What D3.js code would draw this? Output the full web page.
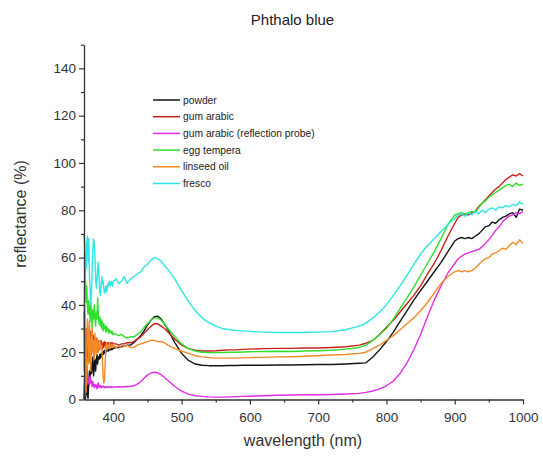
<!DOCTYPE html>
<html>
<head>
<meta charset="utf-8">
<script src="https://cdn.jsdelivr.net/npm/d3@7"></script>
<style>
  html, body { margin: 0; padding: 0; background: #fff; }
  svg { display: block; font-family: Arial, "Liberation Sans", sans-serif; }
</style>
</head>
<body>
<svg id="chart" width="543" height="457"></svg>
<script>
// Wavelength grid (nm) shared by all spectra: 1 nm steps at the noisy blue end
const wavelengths = [
  357,358,359,360,361,362,363,364,365,366,367,368,369,370,371,372,373,374,375,376,377,378,
  379,380,381,382,383,384,385,386,387,388,389,390,391,392,393,394,395,396,397,398,399,400,
  404,408,412,416,420,425,430,
  435,440,445,450,455,460,465,470,475,480,
  490,500,510,520,530,540,550,560,570,580,590,600,
  620,640,660,680,700,720,740,760,
  770,780,790,800,810,820,830,840,850,860,870,880,890,900,
  905,910,915,920,925,930,935,940,945,950,955,960,965,970,975,980,985,990,995,1000
];

// Reflectance (%) per sample
const powder = [
  0,10,0,3,14,2,0.5,8,12,9,16,11,13,18,10,14,17,12,16,19,15,18,
  17,19,17.5,19.5,18,20,19,20.5,19.5,21,20,21,20.5,21.5,20.5,21,21.5,21,21.5,21,22,21.5,
  22,22,22.5,22.5,23,23,24,
  25.5,27,29,31.5,33.5,35,35.2,34,32,29.5,
  24,19.5,16.5,15,14.5,14.3,14.3,14.3,14.4,14.4,14.5,14.5,
  14.5,14.6,14.6,14.7,14.8,14.8,15,15.3,
  15.5,18,21,24.5,28.5,33,37.5,42,46,50,54,58,62.5,67,
  68,68.5,68,68.5,68,69,70,71.5,73,73.5,75,74.5,76,77,77.5,78.5,79,77,80.5,80
];
const gumArabic = [
  37,20,8,30,14,26,18,28,16,24,29,19,25,21,27,18,24,22,26,20,23,25,
  21,24,22,25,23,21.5,24,22,24.5,23,24,22.5,24,23,24,23.5,24,23,24,23.5,24,23.5,
  23.5,23,23.5,23.5,24,24,24.5,
  25.5,26.5,28,29.5,31,32,32,31,30,28.5,
  25.5,23,21.5,20.8,20.5,20.5,20.6,20.8,21,21,21.2,21.3,
  21.5,21.6,21.6,21.8,21.8,22,22.3,23,
  23.8,25,27.5,30.5,33.5,37,40.5,44,48,53,57.5,63,69,74.5,
  77,78,78.5,78,79,79.5,81.5,83,84.5,86,87.5,89,90,91.5,93,94,95,94.5,95.5,94.5
];
const gumArabicProbe = [
  0,1,4,9,6,11,7,9,6,10,7,8,5.5,7.5,6,5,6.5,5.5,6,4.5,6.5,7,
  5,5.5,6,5,5.5,5.2,5.8,5.3,5,5.5,5.2,5.4,5,5.3,5.5,5.2,5.1,5.4,5.2,5.5,5.3,5.2,
  5.3,5.4,5.3,5.4,5.5,5.6,5.8,
  6.5,7.5,9,10.3,11.2,11.5,11.3,10.5,9.3,8,
  5.5,3.5,2.3,1.6,1.3,1.1,1,1,1.1,1.2,1.3,1.4,
  1.6,1.8,1.9,2,2,2.1,2.3,2.6,
  3,3.6,4.5,5.8,7.8,11,15.5,21,27.5,35,42,48,53.5,57.5,
  59.5,60.5,61.5,62,62.5,63,63.5,64.5,66,67.5,69.5,71.5,73,75,76.5,77.5,78,79,78.5,79.5
];
const eggTempera = [
  70,66,52,41,48,39,36,42,38,33,41,36,30,38,34,40,35,31,37,34,43,36,
  32,35,31,34,30,33,29,32,30,31,28.5,31,29,30,28,29.5,28.5,29,28,29,27.5,28,
  27.5,27,27.5,26.5,26,26.5,26.5,
  27.5,28.5,30.5,32,33.5,34.5,34.5,33.5,32,30,
  26.5,23.5,21.5,20.5,20,19.8,19.8,19.9,20,20,20.1,20.2,
  20.3,20.4,20.3,20.5,20.6,20.8,21.3,22,
  23,25,27.5,30,34,38.5,43,47.5,52.5,57.5,62.5,68,74,78,
  78.5,79,78.5,79,79.5,79,81,83,84,85.5,86.5,87.5,88.5,89.5,90.5,91,90,91.5,90.5,91
];
const linseedOil = [
  12,40,25,3,20,34,28,15,33,24,12,26,30,20,25,17,28,22,19,26,23,20,
  25,22,24,21,23,16,10,7,8,15,22,24,21,23,22,24,21.5,23,22,23.5,22,23,
  22,22.5,22,22.5,23,22,22,
  23,23.5,24,24.5,25,25,24.5,24.5,24,23,
  21.5,20.5,19.5,18.5,18,17.7,17.5,17.5,17.5,17.5,17.6,17.7,
  17.8,18,18.1,18.3,18.5,18.8,19,19.5,
  20,21.5,23,25,27,29.5,32,34.5,37.5,41,45,49,52,54,
  54.5,54,54.5,54,54.5,55.5,57,58.5,59.5,60,61.5,62,63,64,63.5,65,66.5,65.5,67.5,66
];
const fresco = [
  30,52,62,55,66,69,58,68,52,46,40,45,56,64,68,66,60,52,47,50,56,58,
  52,46,44,48,52,49,50,47,45,46,48,45.5,47,49,48,50,49,48,50,49,48,50,
  51,49,50,52,49,51,52,
  53,54,56,57,59,60,59.5,58.5,56.5,55,
  51,46,41.5,37.5,34.5,32.5,31,30,29.5,29.2,29,28.8,
  28.5,28.3,28.4,28.3,28.5,28.7,29.5,31,
  32.3,34.5,37,40,44,48,52.5,57,61.5,65,68,71,74,76.5,
  78,78.5,77.5,79,78,79.5,78.5,80,79,80.5,81,80,81.5,81,82,81.5,82.5,82,83.5,82.5
];

const seriesNames = ["powder", "gum arabic", "gum arabic (reflection probe)", "egg tempera", "linseed oil", "fresco"];
const seriesValues = [powder, gumArabic, gumArabicProbe, eggTempera, linseedOil, fresco];
const seriesColors = ["#151515", "#c8201c", "#e22ee2", "#2fe02f", "#f28a26", "#2ee6e6"];

const xMajorTicks = [400, 500, 600, 700, 800, 900, 1000];
const xMinorTicks = [450, 550, 650, 750, 850, 950];
const yMajorTicks = [0, 20, 40, 60, 80, 100, 120, 140];
const yMinorTicks = [10, 30, 50, 70, 90, 110, 130, 150];

const svg = d3.select("#chart");
const plotLeft = 84, plotRight = 523, plotTop = 44.7, plotBottom = 399.5;

const x = d3.scaleLinear().domain([357, 1000]).range([plotLeft, plotRight]);
const y = d3.scaleLinear().domain([0, 150]).range([plotBottom, plotTop]);

svg.append("rect").attr("width", 543).attr("height", 457).attr("fill", "#fff");

// Title
svg.append("text")
  .attr("x", 292.5).attr("y", 25)
  .attr("text-anchor", "middle")
  .attr("font-size", 15)
  .attr("fill", "#222")
  .text("Phthalo blue");

// Spectra
const line = d3.line()
  .x((d, i) => x(wavelengths[i]))
  .y(d => y(d));

const plot = svg.append("g");
seriesValues.forEach((vals, k) => {
  plot.append("path")
    .datum(vals)
    .attr("fill", "none")
    .attr("stroke", seriesColors[k])
    .attr("stroke-width", 1.4)
    .attr("stroke-linejoin", "round")
    .attr("d", line);
});

// Axes
const axisColor = "#333";
function styleAxis(g) {
  g.selectAll("path.domain").attr("stroke", axisColor).attr("stroke-width", 1.3);
  g.selectAll(".tick line").attr("stroke", axisColor).attr("stroke-width", 1.2);
  g.selectAll(".tick text").attr("fill", "#333").attr("font-size", 13.5)
    .attr("font-family", "Arial, 'Liberation Sans', sans-serif");
}

svg.append("g").attr("transform", `translate(0,${plotBottom})`)
  .call(d3.axisBottom(x).tickValues(xMajorTicks).tickFormat(d3.format("d"))
    .tickSize(5).tickSizeOuter(0).tickPadding(8))
  .call(styleAxis);
svg.append("g").attr("transform", `translate(0,${plotBottom})`)
  .call(d3.axisBottom(x).tickValues(xMinorTicks).tickSize(3).tickSizeOuter(0).tickFormat(""))
  .call(styleAxis)
  .select("path.domain").remove();

svg.append("g").attr("transform", `translate(${plotLeft},0)`)
  .call(d3.axisLeft(y).tickValues(yMajorTicks).tickFormat(d3.format("d"))
    .tickSize(5).tickSizeOuter(0).tickPadding(3))
  .call(styleAxis);
svg.append("g").attr("transform", `translate(${plotLeft},0)`)
  .call(d3.axisLeft(y).tickValues(yMinorTicks).tickSize(3).tickSizeOuter(0).tickFormat(""))
  .call(styleAxis)
  .select("path.domain").remove();

// Axis titles
svg.append("text")
  .attr("x", 303).attr("y", 446)
  .attr("text-anchor", "middle")
  .attr("font-size", 16)
  .attr("fill", "#333")
  .text("wavelength (nm)");

svg.append("text")
  .attr("transform", "translate(26,214) rotate(-90)")
  .attr("text-anchor", "middle")
  .attr("font-size", 16)
  .attr("fill", "#333")
  .text("reflectance (%)");

// Legend
const legend = svg.append("g").attr("transform", "translate(153,100)");
seriesNames.forEach((name, k) => {
  const row = legend.append("g").attr("transform", `translate(0,${k * 16.7})`);
  row.append("line")
    .attr("x1", 0).attr("x2", 27).attr("y1", 0).attr("y2", 0)
    .attr("stroke", seriesColors[k]).attr("stroke-width", 1.5);
  row.append("text")
    .attr("x", 30).attr("y", 3.6)
    .attr("font-size", 10.3)
    .attr("fill", "#222")
    .text(name);
});
</script>
</body>
</html>
